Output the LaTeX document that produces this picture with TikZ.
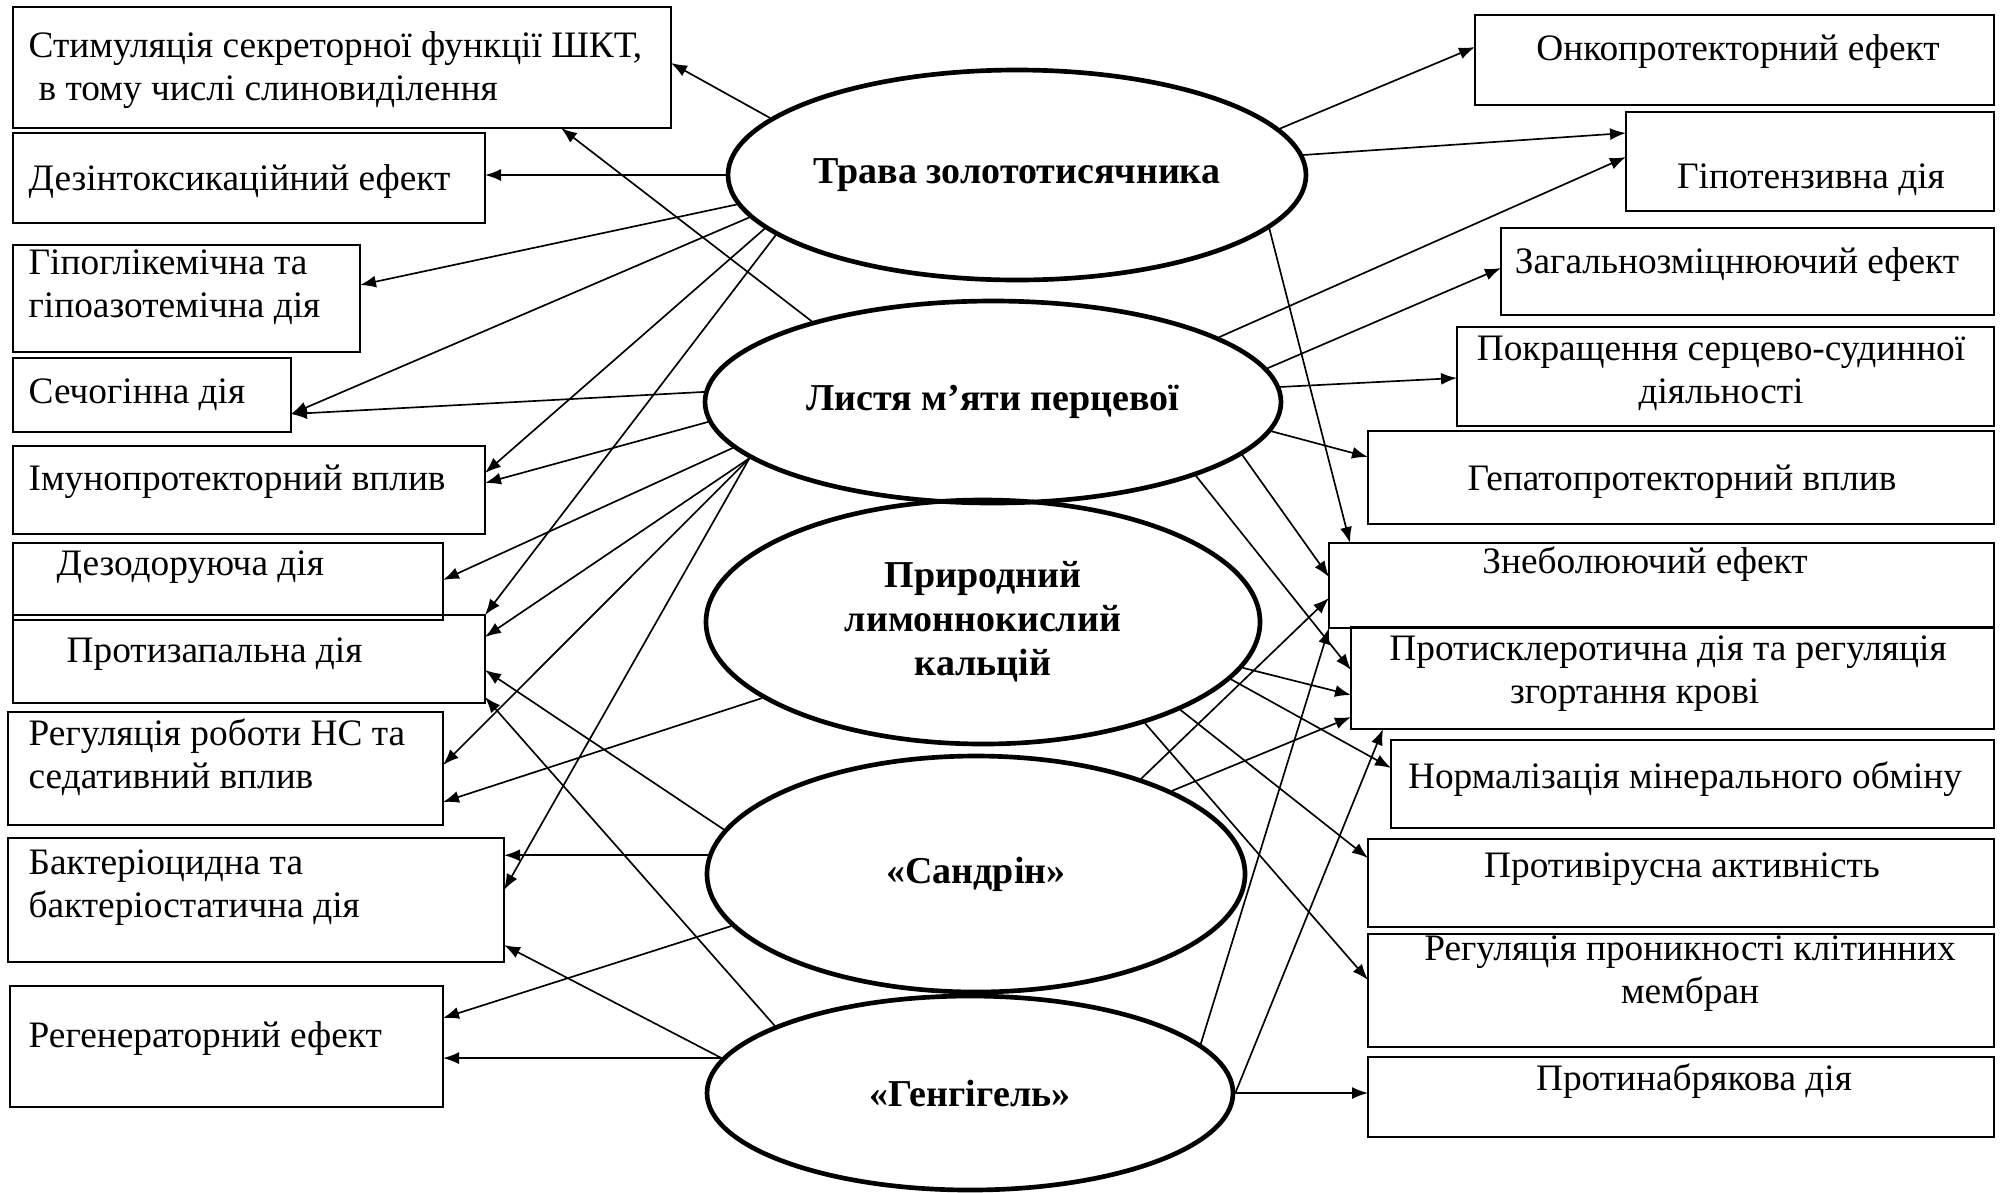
\documentclass[tikz,border=0pt]{standalone}
\usepackage{fontspec}
\setmainfont{Liberation Serif}
\usetikzlibrary{shapes.geometric,fit,arrows.meta}

\begin{document}
\begin{tikzpicture}[x=0.3pt,y=-0.3pt,
  >={Latex[length=4.8pt,width=3.6pt]},
  font=\fontsize{11.2}{12.9}\selectfont,
  box/.style={draw, line width=0.6pt, inner sep=0pt, outer sep=0pt},
  txt/.style={inner sep=0pt, align=left},
  ctxt/.style={inner sep=0pt, align=center},
  oval/.style={draw, ellipse, line width=1.4pt, inner sep=0pt, align=center,
    font=\fontsize{11.4}{13.2}\selectfont\bfseries},
  arr/.style={->, line width=0.5pt}]
\useasboundingbox (0,0) rectangle (2002,1192);

% left boxes
\node [box, fit={(13,7) (671,128)}] (l1) {};
\node [box, fit={(13,133) (485,223)}] (l2) {};
\node [box, fit={(13,245) (360,352)}] (l3) {};
\node [box, fit={(13,358) (291,432)}] (l4) {};
\node [box, fit={(13,446) (485,534)}] (l5) {};
\node [box, fit={(13,543) (443,620)}] (l6) {};
\node [box, fit={(13,615) (485,703)}] (l7) {};
\node [box, fit={(8,712) (443,825)}] (l8) {};
\node [box, fit={(8,838) (504,962)}] (l9) {};
\node [box, fit={(10,986) (443,1107)}] (l10) {};

% (two-line texts: baseline of the last line)
\node [txt, anchor=base west] (l1t) at (28,100) {Стимуляція секреторної функції ШКТ,\\\hspace*{3pt}в тому числі слиновиділення};
\node [txt, anchor=base west] (l2t) at (28,190) {Дезінтоксикаційний ефект};
\node [txt, anchor=base west] (l3t) at (28,317) {Гіпоглікемічна та\\гіпоазотемічна дія};
\node [txt, anchor=base west] (l4t) at (28,403) {Сечогінна дія};
\node [txt, anchor=base west] (l5t) at (28,490) {Імунопротекторний вплив};
\node [txt, anchor=base west] (l6t) at (56,575) {Дезодоруюча дія};
\node [txt, anchor=base west] (l7t) at (66,662) {Протизапальна дія};
\node [txt, anchor=base west] (l8t) at (28,788) {Регуляція роботи НС та\\седативний вплив};
\node [txt, anchor=base west] (l9t) at (28,917) {Бактеріоцидна та\\бактеріостатична дія};
\node [txt, anchor=base west] (l10t) at (28,1047) {Регенераторний ефект};

% right boxes
\node [box, fit={(1475,15) (1994,105)}] (r1) {};
\node [box, fit={(1626,112) (1994,211)}] (r2) {};
\node [box, fit={(1501,228) (1994,315)}] (r3) {};
\node [box, fit={(1457,327) (1994,426)}] (r4) {};
\node [box, fit={(1368,431) (1994,524)}] (r5) {};
\node [box, fit={(1329,543) (1994,628)}] (r6) {};
\node [box, fit={(1351,627) (1994,729)}] (r7) {};
\node [box, fit={(1391,740) (1994,828)}] (r8) {};
\node [box, fit={(1368,839) (1994,927)}] (r9) {};
\node [box, fit={(1368,934) (1994,1047)}] (r10) {};
\node [box, fit={(1368,1057) (1994,1137)}] (r11) {};

\node [ctxt, anchor=base] (r1t) at (1738,60) {Онкопротекторний ефект};
\node [ctxt, anchor=base] (r2t) at (1811,188) {Гіпотензивна дія};
\node [ctxt, anchor=base] (r3t) at (1737,273) {Загальнозміцнюючий ефект};
\node [ctxt, anchor=base] (r4t) at (1721,403) {Покращення серцево-судинної\\діяльності};
\node [ctxt, anchor=base] (r5t) at (1682,490) {Гепатопротекторний вплив};
\node [ctxt, anchor=base] (r6t) at (1645,573) {Знеболюючий ефект};
\node [ctxt, anchor=base] (r7t) at (1668,703) {Протисклеротична дія та регуляція\\згортання крові\hspace*{20pt}};
\node [ctxt, anchor=base] (r8t) at (1685,788) {Нормалізація мінерального обміну};
\node [ctxt, anchor=base] (r9t) at (1682,877) {Противірусна активність};
\node [ctxt, anchor=base] (r10t) at (1690,1003) {Регуляція проникності клітинних\\мембран};
\node [ctxt, anchor=base] (r11t) at (1694,1090) {Протинабрякова дія};

% ovals in the middle
\node [oval, minimum width=173.4pt, minimum height=63pt] (e1) at (1017,175) {Трава золототисячника};
\node [oval, minimum width=172.8pt, minimum height=60.6pt] (e2) at (993,402) {Листя м’яти перцевої};
\node [oval, minimum width=166.2pt, minimum height=73.2pt] (e3) at (983,622) {Природний\\лимоннокислий\\кальцій};
\node [oval, minimum width=161.4pt, minimum height=70.8pt] (e4) at (976,874) {«Сандрін»};
\node [oval, minimum width=157.8pt, minimum height=58.2pt] (e5) at (970,1093) {«Генгігель»};

% Трава золототисячника
\draw [arr] (e1.167)--(l1.east |- 0,63);
\draw [arr] (e1.west)--(e1.west -| l2.east);
\draw [arr] (e1.186)--(l3.east |- 0,285);
\draw [arr] (e1.189)--(l4.east |- 0,414);
\draw [arr] (e1.192)--(l5.east |- 0,473);
\draw [arr] (e1.194)--(l7.north east);
\draw [arr] (e1.10)--(r1.west |- 0,47);
\draw [arr] (e1.4)--(r2.west |- 0,133);
\draw [arr] (e1.348)--(r6.north -| 1350,0);

% Листя м'яти перцевої
\draw [arr] (e2.156)--(l1.south -| 561,0);
\draw [arr] (e2.178)--(l4.east |- 0,414);
\draw [arr] (e2.184)--(l5.east |- 0,483);
\draw [arr] (e2.190)--(l6.east |- 0,580);
\draw [arr] (e2.193)--(l7.east |- 0,637);
\draw [arr] (e2.193)--(l8.east |- 0,765);
\draw [arr] (e2.193)--(l9.east |- 0,890);
\draw [arr] (e2.16)--(r2.west |- 0,157);
\draw [arr] (e2.7)--(r3.west |- 0,268);
\draw [arr] (e2.3)--(r4.west |- 0,378);
\draw [arr] (e2.354)--(r5.west |- 0,457);
\draw [arr] (e2.348)--(r6.west |- 0,577);
\draw [arr] (e2.340)--(r7.west |- 0,670);

% Природний лимоннокислий кальцій
\draw [arr] (e3.199)--(l8.east |- 0,802);
\draw [arr] (e3.350)--(r7.west |- 0,695);
\draw [arr] (e3.347)--(r8.west |- 0,768);
\draw [arr] (e3.336)--(r9.west |- 0,858);
\draw [arr] (e3.328)--(r10.west |- 0,980);

% Сандрін
\draw [arr] (e4.170)--(l7.east |- 0,670);
\draw [arr] (e4.176)--(e4.176 -| l9.east);
\draw [arr] (e4.192)--(l10.east |- 0,1018);
\draw [arr] (e4.30)--(r6.west |- 0,598);
\draw [arr] (e4.23)--(r7.west |- 0,717);

% Генгігель
\draw [arr] (e5.161)--(l7.east |- 0,697);
\draw [arr] (e5.172)--(l9.east |- 0,945);
\draw [arr] (e5.172)--(e5.172 -| l10.east);
\draw [arr] (e5.12)--(r6.south west);
\draw [arr] (e5.east)--(r7.south -| 1383,0);
\draw [arr] (e5.east)--(e5.east -| r11.west);
\end{tikzpicture}
\end{document}
